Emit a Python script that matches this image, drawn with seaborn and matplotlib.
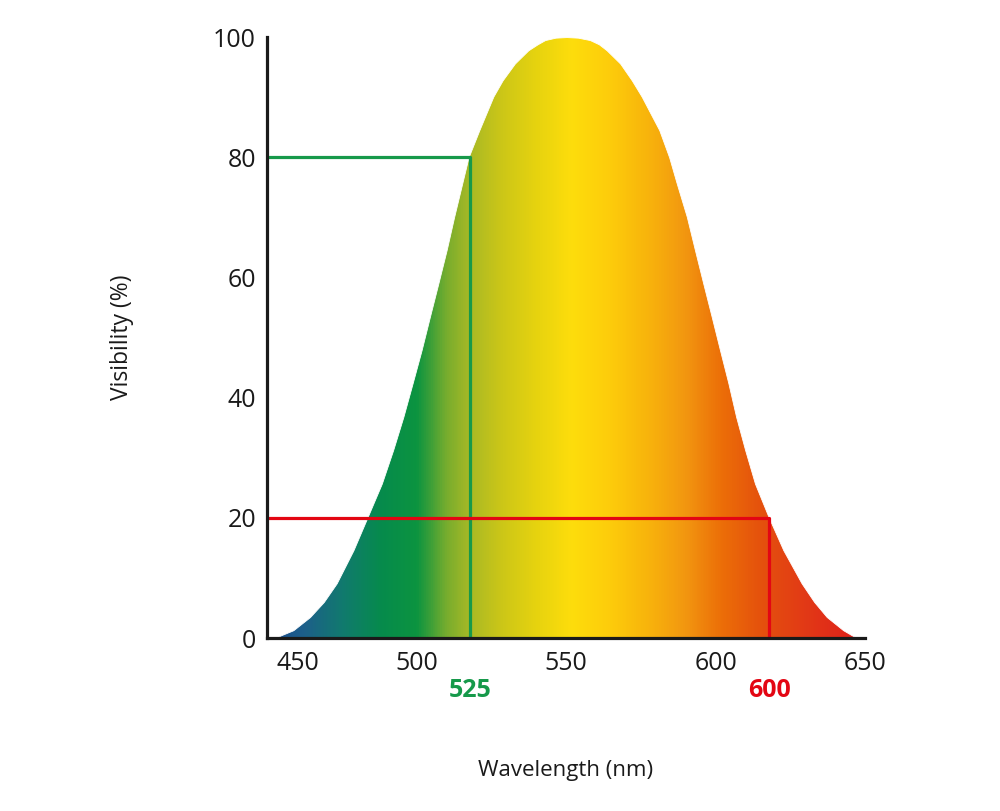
import numpy as np
import matplotlib
matplotlib.use("Agg")
import matplotlib.pyplot as plt
import matplotlib.transforms as mtransforms
from matplotlib.colors import LinearSegmentedColormap
import seaborn as sns

# Visibility curve (wavelength in nm, visibility in %)
wavelength = [452.7, 454.9, 458.8, 464.4, 469.0, 473.3, 478.9, 483.7, 488.4, 492.2,
              495.6, 498.7, 501.7, 504.5, 507.3, 510.1, 512.6, 517.4, 521.0, 525.7,
              528.8, 532.9, 537.4, 540.5, 543.0, 546.5, 550.2, 554.0, 558.0, 561.0,
              563.6, 568.1, 572.0, 575.3, 581.2, 584.5, 587.0, 590.4, 593.1, 595.9,
              598.7, 601.5, 604.3, 606.9, 609.9, 613.2, 617.7, 622.7, 628.8, 633.0,
              637.2, 642.7, 647.2]
visibility = [0.0, 0.5, 1.3, 3.5, 6.0, 9.1, 14.6, 20.2, 25.7, 31.3,
              36.8, 42.4, 47.9, 53.5, 59.0, 64.6, 70.1, 80.0, 84.5, 90.1,
              92.8, 95.6, 97.8, 98.8, 99.5, 99.9, 100.0, 99.9, 99.5, 98.8,
              97.8, 95.6, 92.8, 90.1, 84.5, 80.0, 75.7, 70.1, 64.6, 59.0,
              53.5, 47.9, 42.4, 36.8, 31.3, 25.7, 20.2, 14.6, 9.1, 6.0,
              3.5, 1.3, 0.0]

# guide lines
green_x, green_y, green_label = 518, 80, "525"
red_x, red_y, red_label = 618, 20, "600"

x_ticks = [450, 500, 550, 600, 650]
y_ticks = [0, 20, 40, 60, 80, 100]

# spectrum colours along the wavelength axis
stops_nm = [450, 462, 475, 488, 500, 510, 518, 528, 540, 552, 565, 578, 590, 602, 615, 630, 650]
stops_col = ["#1a4a8e", "#1d5f8a", "#117a6e", "#068b4c", "#0c9440", "#78ad2e", "#a9b925",
             "#cbc618", "#e6d30f", "#fedd0c", "#fdcc0b", "#f8b30c", "#f29710", "#ec6f08",
             "#e5520d", "#e23a16", "#df1d1b"]

sns.set_style("white")
plt.rcParams["font.family"] = ["Open Sans", "DejaVu Sans"]

fig = plt.figure(figsize=(10, 8.11), dpi=100)
ax = fig.add_axes([0.267, 0.2133, 0.598, 0.741])

# gradient under the curve: full colour field, then white mask above the curve
pos = [(s - 450) / 200 for s in stops_nm]
cmap = LinearSegmentedColormap.from_list("spectrum", list(zip(pos, stops_col)))
grad = np.linspace(0, 1, 1000)[None, :]
ax.imshow(grad, extent=[450, 650, 0, 100], aspect="auto", cmap=cmap,
          origin="lower", zorder=1, interpolation="bilinear")
mask_x = [449] + wavelength + [651]
mask_y = [0] + visibility + [0]
ax.fill_between(mask_x, mask_y, 102, color="white", lw=0.6, edgecolor="white",
                zorder=2, clip_on=False)

sns.lineplot(x=[450, green_x, green_x], y=[green_y, green_y, 0], sort=False,
             estimator=None, color="#17994a", lw=2.3, ax=ax, zorder=3)
sns.lineplot(x=[450, red_x, red_x], y=[red_y, red_y, 0], sort=False,
             estimator=None, color="#e30613", lw=2.3, ax=ax, zorder=3)

ax.set_xlim(450, 650)
ax.set_ylim(0, 100)
ax.set_xticks(x_ticks)
ax.set_yticks(y_ticks)
for side in ["top", "right"]:
    ax.spines[side].set_visible(False)
for side in ["left", "bottom"]:
    ax.spines[side].set_color("#1a1a1a")
    ax.spines[side].set_linewidth(2.3)
    ax.spines[side].set_zorder(4)
ax.tick_params(direction="in", length=10, width=2.0, color="#1a1a1a",
               labelsize=18, labelcolor="#1a1a1a")
ax.tick_params(axis="x", pad=9)
ax.tick_params(axis="y", pad=8)
for t in ax.xaxis.get_major_ticks() + ax.yaxis.get_major_ticks():
    t.tick1line.set_zorder(5)

# nudge the first x label off the y axis
offset = mtransforms.ScaledTranslation(0.31, 0, fig.dpi_scale_trans)
lab0 = ax.get_xticklabels()[0]
lab0.set_transform(lab0.get_transform() + offset)

ax.text(green_x, -8.7, green_label, color="#16994a", fontsize=18, fontweight="bold",
        ha="center", va="center", clip_on=False)
ax.text(red_x, -8.7, red_label, color="#e30613", fontsize=18, fontweight="bold",
        ha="center", va="center", clip_on=False)

ax.set_xlabel("Wavelength (nm)", fontsize=16, color="#1a1a1a")
ax.xaxis.set_label_coords(0.5, -0.203)
ax.set_ylabel("Visibility (%)", fontsize=16.5, color="#1a1a1a")
ax.yaxis.set_label_coords(-0.222, 0.5)

fig.savefig("out.png", dpi=100, facecolor="white")
